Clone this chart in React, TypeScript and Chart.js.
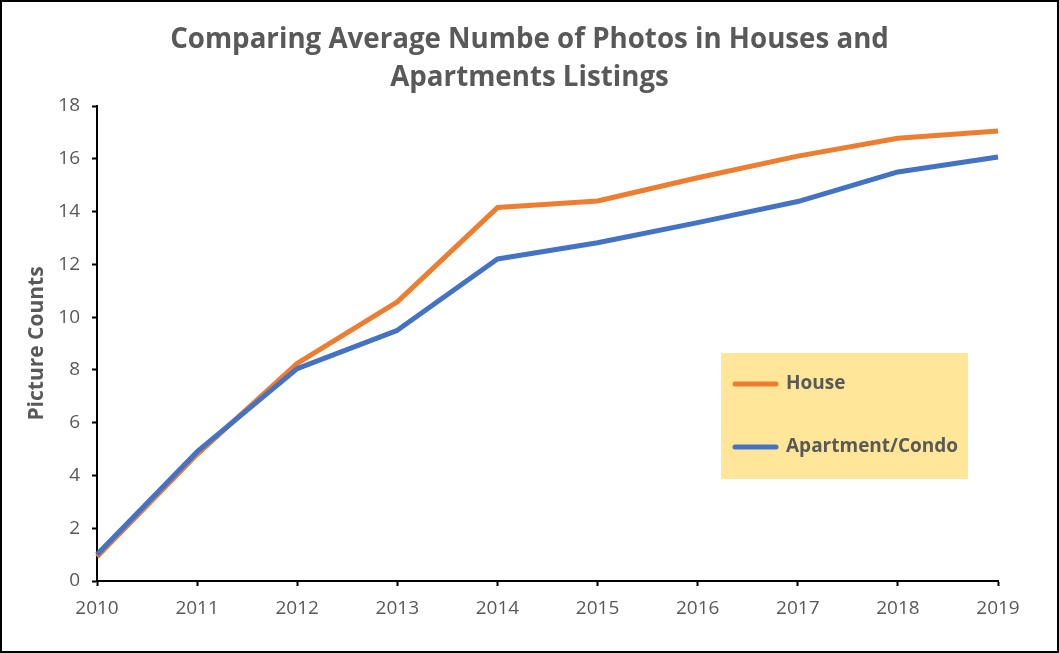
import React, { useEffect, useRef } from "react";
import { Chart, registerables } from "chart.js";

Chart.register(...registerables);

const years = ["2010", "2011", "2012", "2013", "2014", "2015", "2016", "2017", "2018", "2019"];
const houseValues = [0.92, 4.8, 8.25, 10.58, 14.15, 14.4, 15.28, 16.1, 16.78, 17.05];
const apartmentValues = [1.0, 4.9, 8.05, 9.5, 12.2, 12.82, 13.58, 14.38, 15.5, 16.07];
const seriesNames = ["House", "Apartment/Condo"];
const titleLines = ["Comparing Average Numbe of Photos in Houses and", "Apartments Listings"];
const yAxisTitle = "Picture Counts";

const TEXT = "#595959";
const FONT = "'Open Sans'";

const titlePlugin = {
  id: "centeredTitle",
  afterDraw(chart: any) {
    const ctx = chart.ctx;
    ctx.save();
    ctx.fillStyle = TEXT;
    ctx.font = `bold 27.7px ${FONT}`;
    ctx.textAlign = "center";
    ctx.textBaseline = "middle";
    const cx = chart.width / 2;
    titleLines.forEach((line, i) => {
      ctx.fillText(line, cx, 38 + i * 38);
    });
    ctx.restore();
  },
};

const legendPlugin = {
  id: "boxLegend",
  afterDraw(chart: any) {
    const ctx = chart.ctx;
    const x0 = 719, y0 = 351, w = 247, h = 126;
    ctx.save();
    ctx.fillStyle = "#FFE699";
    ctx.fillRect(x0, y0, w, h);
    const rows = [382, 445];
    chart.data.datasets.forEach((ds: any, i: number) => {
      const y = rows[i];
      ctx.strokeStyle = ds.borderColor;
      ctx.lineWidth = 5;
      ctx.lineCap = "round";
      ctx.beginPath();
      ctx.moveTo(733, y);
      ctx.lineTo(774, y);
      ctx.stroke();
      ctx.fillStyle = TEXT;
      ctx.font = `bold 19px ${FONT}`;
      ctx.textBaseline = "middle";
      ctx.textAlign = "left";
      ctx.fillText(ds.label, 784, y);
    });
    ctx.restore();
  },
};

export default function App() {
  const ref = useRef<HTMLCanvasElement | null>(null);
  useEffect(() => {
    document.body.style.margin = "0";
    const chart = new Chart(ref.current as HTMLCanvasElement, {
      type: "line",
      data: {
        labels: years,
        datasets: [
          {
            label: seriesNames[0],
            data: houseValues,
            borderColor: "#ED7D31",
            backgroundColor: "#ED7D31",
            borderWidth: 5,
            pointRadius: 0,
            tension: 0,
            borderJoinStyle: "round",
            order: 1,
          },
          {
            label: seriesNames[1],
            data: apartmentValues,
            borderColor: "#4472C4",
            backgroundColor: "#4472C4",
            borderWidth: 5,
            pointRadius: 0,
            tension: 0,
            borderJoinStyle: "round",
            order: 0,
          },
        ],
      },
      options: {
        animation: false,
        responsive: false,
        layout: { padding: { left: 0, right: 59, top: 104, bottom: 0 } },
        plugins: {
          legend: { display: false },
          tooltip: { enabled: false },
          title: { display: false },
        },
        scales: {
          x: {
            type: "category",
            offset: false,
            grid: {
              drawOnChartArea: false,
              drawTicks: true,
              tickLength: 5,
              tickColor: "#000",
              tickWidth: 2,
            },
            border: { display: true, color: "#000", width: 2 },
            ticks: {
              color: TEXT,
              font: { family: FONT, size: 19 },
              padding: 11,
              maxRotation: 0,
              autoSkip: false,
            },
            afterFit(scale: any) {
              scale.height = 70;
            },
          },
          y: {
            min: 0,
            max: 18,
            grid: {
              drawOnChartArea: false,
              drawTicks: true,
              tickLength: 5,
              tickColor: "#000",
              tickWidth: 2,
            },
            border: { display: true, color: "#000", width: 2 },
            ticks: {
              stepSize: 2,
              color: TEXT,
              font: { family: FONT, size: 19 },
              padding: 12,
            },
            title: {
              display: true,
              text: yAxisTitle,
              color: TEXT,
              font: { family: FONT, size: 21, weight: "bold" },
              padding: { top: 22, bottom: 0 },
            },
            afterFit(scale: any) {
              scale.width = 95;
            },
          },
        },
      },
      plugins: [titlePlugin, legendPlugin],
    } as any);
    return () => chart.destroy();
  }, []);
  return (
    <div
      style={{
        width: 1059,
        height: 653,
        boxSizing: "border-box",
        border: "2px solid #000",
        background: "#fff",
      }}
    >
      <canvas ref={ref} width={1055} height={649} style={{ display: "block" }} />
    </div>
  );
}
